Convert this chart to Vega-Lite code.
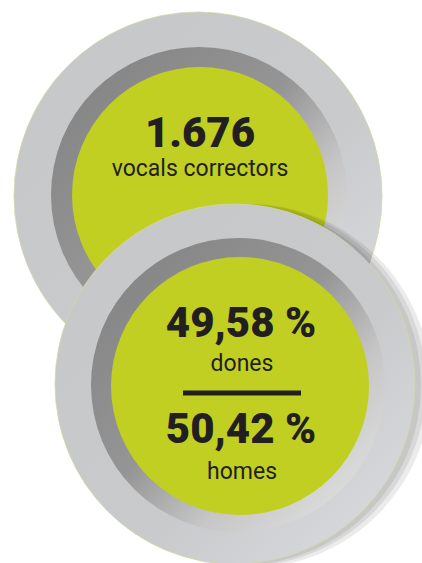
{
  "$schema": "https://vega.github.io/schema/vega-lite/v6.json",
  "width": 422,
  "height": 563,
  "autosize": {"type": "none"},
  "padding": 0,
  "background": "white",
  "config": {"view": {"stroke": null}},
  "datasets": {
    "rings": [
      {"circle": "top", "ring": "outer", "x": 198, "y": 196, "d": 368},
      {"circle": "top", "ring": "dark", "x": 199, "y": 195, "d": 296},
      {"circle": "top", "ring": "green", "x": 200, "y": 195, "d": 256},
      {"circle": "bottom", "ring": "shadow1", "x": 249, "y": 386, "d": 364},
      {"circle": "bottom", "ring": "shadow2", "x": 245, "y": 385, "d": 362},
      {"circle": "bottom", "ring": "shadow3", "x": 241, "y": 385, "d": 360},
      {"circle": "bottom", "ring": "outer", "x": 235, "y": 384, "d": 360},
      {"circle": "bottom", "ring": "dark", "x": 238, "y": 385, "d": 294},
      {"circle": "bottom", "ring": "green", "x": 240, "y": 386, "d": 258}
    ],
    "bigText": [
      {"label": "1.676", "x": 200, "y": 147},
      {"label": "49,58 %", "x": 241, "y": 337},
      {"label": "50,42 %", "x": 241, "y": 443}
    ],
    "smallText": [
      {"label": "vocals correctors", "x": 200, "y": 176},
      {"label": "dones", "x": 242, "y": 371},
      {"label": "homes", "x": 242, "y": 479}
    ],
    "divider": [
      {"x": 183, "x2": 301, "y": 393}
    ]
  },
  "encoding": {
    "x": {"field": "x", "type": "quantitative", "scale": {"domain": [0, 422], "nice": false, "zero": false}, "axis": null},
    "y": {"field": "y", "type": "quantitative", "scale": {"domain": [0, 563], "nice": false, "zero": false, "reverse": true}, "axis": null}
  },
  "layer": [
    {
      "data": {"name": "rings"},
      "transform": [{"filter": "datum.circle === 'top' && datum.ring === 'outer'"}],
      "mark": {"type": "point", "shape": "circle", "filled": true, "opacity": 1, "stroke": "#d2d5a8", "strokeWidth": 0.8,
        "fill": {"gradient": "linear", "x1": 0, "y1": 0, "x2": 1, "y2": 1, "stops": [{"offset": 0, "color": "#c6c7c9"}, {"offset": 0.6, "color": "#c9cacc"}, {"offset": 1, "color": "#dcdde0"}]}},
      "encoding": {"size": {"field": "d", "type": "quantitative", "scale": {"type": "pow", "exponent": 2, "domain": [0, 422], "range": [0, 178084]}, "legend": null}}
    },
    {
      "data": {"name": "rings"},
      "transform": [{"filter": "datum.circle === 'top' && datum.ring === 'dark'"}],
      "mark": {"type": "point", "shape": "circle", "filled": true, "opacity": 1, "strokeWidth": 0,
        "fill": {"gradient": "linear", "x1": 0.1, "y1": 0.1, "x2": 0.9, "y2": 0.9, "stops": [{"offset": 0, "color": "#858585"}, {"offset": 0.45, "color": "#959595"}, {"offset": 0.72, "color": "#c6c6c6"}, {"offset": 1, "color": "#dedede"}]}},
      "encoding": {"size": {"field": "d", "type": "quantitative", "scale": {"type": "pow", "exponent": 2, "domain": [0, 422], "range": [0, 178084]}, "legend": null}}
    },
    {
      "data": {"name": "rings"},
      "transform": [{"filter": "datum.circle === 'top' && datum.ring === 'green'"}],
      "mark": {"type": "point", "shape": "circle", "filled": true, "opacity": 1, "strokeWidth": 0, "fill": "#c1cf22"},
      "encoding": {"size": {"field": "d", "type": "quantitative", "scale": {"type": "pow", "exponent": 2, "domain": [0, 422], "range": [0, 178084]}, "legend": null}}
    },
    {
      "data": {"name": "rings"},
      "transform": [{"filter": "datum.circle === 'bottom' && indexof(datum.ring, 'shadow') === 0"}],
      "mark": {"type": "point", "shape": "circle", "filled": true, "opacity": 0.08, "strokeWidth": 0, "fill": "#000000"},
      "encoding": {"size": {"field": "d", "type": "quantitative", "scale": {"type": "pow", "exponent": 2, "domain": [0, 422], "range": [0, 178084]}, "legend": null}}
    },
    {
      "data": {"name": "rings"},
      "transform": [{"filter": "datum.circle === 'bottom' && datum.ring === 'outer'"}],
      "mark": {"type": "point", "shape": "circle", "filled": true, "opacity": 1, "stroke": "#d2d5a8", "strokeWidth": 0.8,
        "fill": {"gradient": "linear", "x1": 0, "y1": 0, "x2": 1, "y2": 1, "stops": [{"offset": 0, "color": "#c6c7c9"}, {"offset": 0.6, "color": "#c9cacc"}, {"offset": 1, "color": "#dcdde0"}]}},
      "encoding": {"size": {"field": "d", "type": "quantitative", "scale": {"type": "pow", "exponent": 2, "domain": [0, 422], "range": [0, 178084]}, "legend": null}}
    },
    {
      "data": {"name": "rings"},
      "transform": [{"filter": "datum.circle === 'bottom' && datum.ring === 'dark'"}],
      "mark": {"type": "point", "shape": "circle", "filled": true, "opacity": 1, "strokeWidth": 0,
        "fill": {"gradient": "linear", "x1": 0.1, "y1": 0.1, "x2": 0.9, "y2": 0.9, "stops": [{"offset": 0, "color": "#858585"}, {"offset": 0.45, "color": "#959595"}, {"offset": 0.72, "color": "#c6c6c6"}, {"offset": 1, "color": "#dedede"}]}},
      "encoding": {"size": {"field": "d", "type": "quantitative", "scale": {"type": "pow", "exponent": 2, "domain": [0, 422], "range": [0, 178084]}, "legend": null}}
    },
    {
      "data": {"name": "rings"},
      "transform": [{"filter": "datum.circle === 'bottom' && datum.ring === 'green'"}],
      "mark": {"type": "point", "shape": "circle", "filled": true, "opacity": 1, "strokeWidth": 0, "fill": "#c1cf22"},
      "encoding": {"size": {"field": "d", "type": "quantitative", "scale": {"type": "pow", "exponent": 2, "domain": [0, 422], "range": [0, 178084]}, "legend": null}}
    },
    {
      "data": {"name": "divider"},
      "mark": {"type": "rule", "color": "#231f20", "strokeWidth": 5},
      "encoding": {"x2": {"field": "x2"}}
    },
    {
      "data": {"name": "bigText"},
      "mark": {"type": "text", "font": "Roboto, sans-serif", "fontWeight": 900, "fontSize": 42, "align": "center", "baseline": "alphabetic", "color": "#231f20"},
      "encoding": {"text": {"field": "label"}}
    },
    {
      "data": {"name": "smallText"},
      "mark": {"type": "text", "font": "Roboto, sans-serif", "fontSize": 23, "align": "center", "baseline": "alphabetic", "color": "#231f20"},
      "encoding": {"text": {"field": "label"}}
    }
  ]
}
